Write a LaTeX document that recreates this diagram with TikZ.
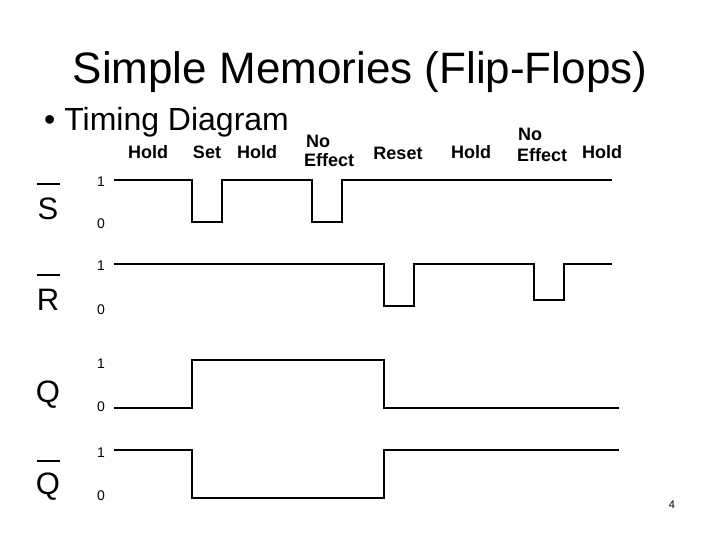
\documentclass[tikz,border=0pt]{standalone}
\usepackage{fontspec}
\setmainfont{Liberation Sans}
\begin{document}
\begin{tikzpicture}[x=1pt,y=-1pt,
  wave/.style={line width=1.3pt,line join=miter},
  bar/.style={line width=2.4pt},
  sig/.style={font=\fontsize{31}{34}\selectfont,inner sep=0pt,anchor=base},
  lvl/.style={font=\fontsize{14}{16}\selectfont,inner sep=0pt},
  phase/.style={font=\bfseries\fontsize{18}{20}\selectfont,inner sep=0pt,anchor=base}]
\useasboundingbox[fill=white] (0,0) rectangle (720,540);
% title
\node[inner sep=0pt,anchor=base,font=\fontsize{44}{48}\selectfont] (title) at (360,84) {Simple Memories (Flip-Flops)};
\node[inner sep=0pt,anchor=base west,font=\fontsize{32}{36}\selectfont] (bullet) at (44,131) {\textbullet\ Timing Diagram};
% phase labels
\node[phase] (h1) at (148,159) {Hold};
\node[phase] (st) at (207,159) {Set};
\node[phase] (h2) at (257,159) {Hold};
\node[phase,anchor=base west] (ne1a) at (306,148) {No};
\node[phase,anchor=base west] (ne1b) at (304,167) {Effect};
\node[phase] (rs) at (398,160) {Reset};
\node[phase] (h3) at (471,159) {Hold};
\node[phase,anchor=base west] (ne2a) at (518,141) {No};
\node[phase,anchor=base west] (ne2b) at (517,162) {Effect};
\node[phase] (h4) at (602,159) {Hold};
% signal names
\node[sig] (S) at (48,220) {S};
\node[sig] (R) at (48,310) {R};
\node[sig] (Q) at (48,402) {Q};
\node[sig] (Qb) at (48,494) {Q};
\draw[bar] (37,184) -- (60,184);
\draw[bar] (37,275) -- (60,275);
\draw[bar] (37,461) -- (60,461);
% level labels
\node[lvl] (s1) at (101,182) {1};
\node[lvl] (s0) at (101,224) {0};
\node[lvl] (r1) at (101,266) {1};
\node[lvl] (r0) at (101,310) {0};
\node[lvl] (q1) at (101,364) {1};
\node[lvl] (q0) at (101,407) {0};
\node[lvl] (qb1) at (101,453) {1};
\node[lvl] (qb0) at (101,496) {0};
% waveforms
\draw[wave] (114,180) -- (192,180) -- (192,222) -- (222,222) -- (222,180) -- (312,180) -- (312,222) -- (342,222) -- (342,180) -- (612,180);
\draw[wave] (114,264) -- (384,264) -- (384,306) -- (414,306) -- (414,264) -- (534,264) -- (534,300) -- (564,300) -- (564,264) -- (612,264);
\draw[wave] (114,408) -- (192,408) -- (192,360) -- (384,360) -- (384,408) -- (619,408);
\draw[wave] (114,450) -- (192,450) -- (192,498) -- (384,498) -- (384,450) -- (619,450);
% page number
\node[inner sep=0pt,font=\fontsize{11}{12}\selectfont] (pg) at (672,505) {4};
\end{tikzpicture}
\end{document}
